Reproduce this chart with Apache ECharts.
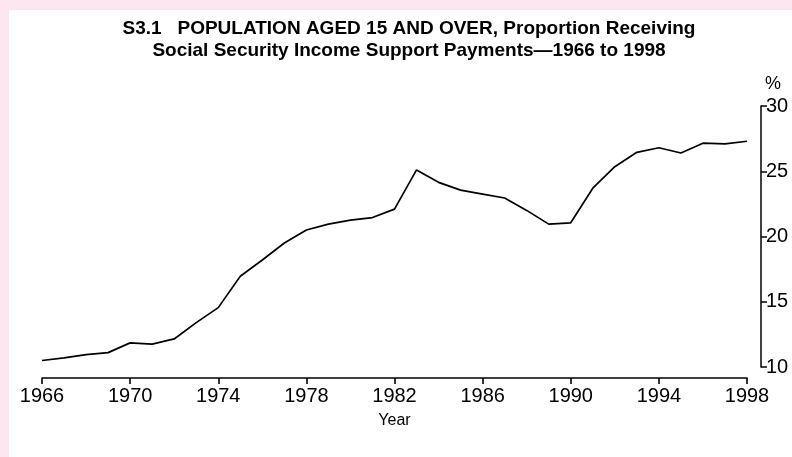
<!DOCTYPE html>
<html>
<head>
<meta charset="utf-8">
<script src="https://cdn.jsdelivr.net/npm/echarts@6/dist/echarts.min.js"></script>
<style>
  html, body { margin: 0; padding: 0; background: #fde6ef; }
  #panel { position: absolute; left: 9px; top: 10px; width: 783px; height: 447px; background: #fff; }
  #chart { position: absolute; left: 0; top: 0; width: 792px; height: 457px; }
</style>
</head>
<body>
<div id="panel"></div>
<div id="chart"></div>
<script>
// years 1966..1998
const years = []
for (let y = 1966; y <= 1998; y++) years.push(String(y))

// proportion receiving income support payments (%)
const proportion = [
  10.5, 10.7, 10.95, 11.1, 11.85, 11.75, 12.15, 13.4, 14.55, 16.95,
  18.2, 19.5, 20.5, 20.95, 21.25, 21.45, 22.1, 25.1, 24.15, 23.55,
  23.25, 22.95, 22.0, 20.95, 21.05, 23.7, 25.35, 26.45, 26.8, 26.4,
  27.15, 27.1, 27.3
]

const yTicks = { min: 10, max: 30, step: 5 }

const titleText = 'S3.1   POPULATION AGED 15 AND OVER, Proportion Receiving\nSocial Security Income Support Payments\u20141966 to 1998'

const chart = echarts.init(document.getElementById('chart'), null, { renderer: 'canvas' })

const labelFont = "'Liberation Sans', Arial, sans-serif"

chart.setOption({
  backgroundColor: 'transparent',
  animation: false,
  title: {
    text: titleText,
    left: 404,
    top: 13,
    textAlign: 'center',
    textStyle: {
      fontFamily: "'Liberation Sans Narrow', 'Liberation Sans', sans-serif",
      fontWeight: 'bold',
      fontSize: 19,
      lineHeight: 22,
      color: '#000'
    }
  },
  grid: {
    left: 42,
    right: 45,
    top: 106,
    bottom: 90
  },
  xAxis: {
    type: 'category',
    data: years,
    boundaryGap: false,
    offset: 11,
    name: 'Year',
    nameLocation: 'middle',
    nameGap: 35,
    nameTextStyle: { fontFamily: labelFont, fontSize: 16, color: '#000' },
    axisLine: { lineStyle: { color: '#000', width: 1.6 } },
    axisTick: { interval: 3, length: 6, lineStyle: { color: '#000', width: 1.6 } },
    axisLabel: { interval: 3, margin: 8, fontFamily: labelFont, fontSize: 20, color: '#000' },
    splitLine: { show: false }
  },
  yAxis: {
    type: 'value',
    position: 'right',
    offset: 14,
    min: yTicks.min,
    max: yTicks.max,
    interval: yTicks.step,
    name: '%',
    nameLocation: 'end',
    nameGap: 13,
    nameTextStyle: { fontFamily: labelFont, fontSize: 18, color: '#000', align: 'left', padding: [0, 0, 0, 4] },
    axisLine: { show: true, lineStyle: { color: '#000', width: 1.5 } },
    axisTick: { show: true, length: 6, lineStyle: { color: '#000', width: 1.5 } },
    axisLabel: { margin: 5, fontFamily: labelFont, fontSize: 20, color: '#000' },
    splitLine: { show: false }
  },
  series: [{
    type: 'line',
    data: proportion,
    symbol: 'none',
    lineStyle: { color: '#000', width: 1.7 }
  }]
})
</script>
</body>
</html>
